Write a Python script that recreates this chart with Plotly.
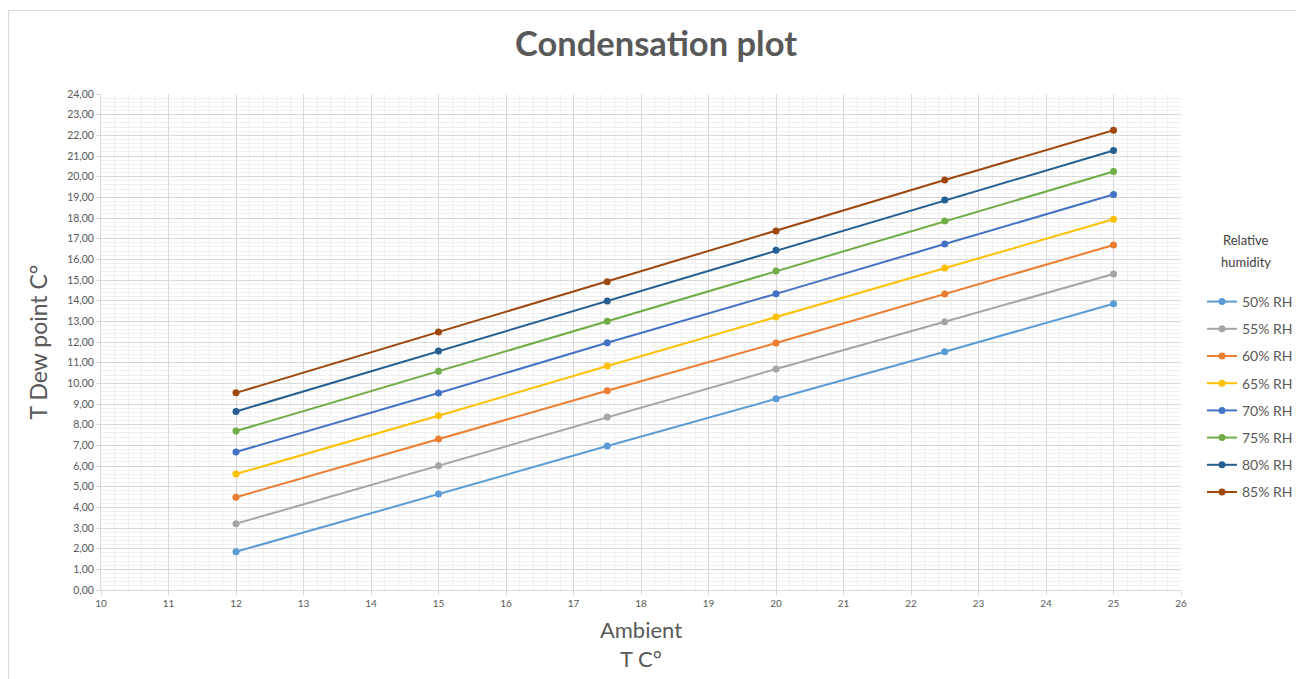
import plotly.graph_objects as go

ambient = [12, 15, 17.5, 20, 22.5, 25]
series_names = ["50% RH", "55% RH", "60% RH", "65% RH", "70% RH", "75% RH", "80% RH", "85% RH"]
rh50 = [1.85, 4.65, 6.97, 9.25, 11.53, 13.85]
rh55 = [3.21, 6.01, 8.37, 10.69, 12.98, 15.29]
rh60 = [4.49, 7.31, 9.64, 11.95, 14.32, 16.69]
rh65 = [5.61, 8.43, 10.84, 13.21, 15.58, 17.94]
rh70 = [6.68, 9.53, 11.96, 14.33, 16.74, 19.14]
rh75 = [7.69, 10.59, 13.01, 15.43, 17.85, 20.25]
rh80 = [8.64, 11.56, 13.98, 16.44, 18.87, 21.27]
rh85 = [9.54, 12.48, 14.91, 17.37, 19.84, 22.25]
series_values = [rh50, rh55, rh60, rh65, rh70, rh75, rh80, rh85]
colors = ["#5B9BD5", "#A5A5A5", "#ED7D31", "#FFC000", "#4472C4", "#70AD47", "#255E91", "#9E480E"]

text_color = "#595959"
font_family = "Lato, 'Open Sans', sans-serif"

# figure size compensates for the 8px default page margin
W, H = 1296, 671
ML, MR, MT, MB = 93, 123, 86, 89
PW, PH = W - ML - MR, H - MT - MB


def px_x(page_x):
    return (page_x - 8 - ML) / PW


def px_y(page_y):
    return (H - MB - (page_y - 8)) / PH


fig = go.Figure()
for name, vals, col in zip(series_names, series_values, colors):
    fig.add_trace(go.Scatter(
        x=ambient, y=vals, name=name, mode="lines+markers",
        line=dict(color=col, width=2),
        marker=dict(color=col, size=7),
        legendgroup=name,
    ))

fig.update_layout(
    width=W, height=H,
    paper_bgcolor="white", plot_bgcolor="white",
    separators=",.",
    margin=dict(l=ML, r=MR, t=MT, b=MB, autoexpand=False),
    font=dict(family=font_family, color=text_color),
    title=dict(text="<b>Condensation plot</b>", x=0.5, xref="container", xanchor="center",
               y=1 - 36 / H, yref="container", yanchor="middle",
               font=dict(size=34.5, color=text_color, family=font_family)),
    showlegend=True,
    legend=dict(
        xref="container", yref="container",
        x=(1202 - 8) / W, xanchor="left", y=1 - (286 - 8) / H, yanchor="top",
        font=dict(size=14, color=text_color),
        tracegroupgap=6, itemwidth=30,
        bgcolor="rgba(0,0,0,0)",
    ),
    annotations=[
        dict(text="Relative", x=px_x(1246), y=px_y(240), xref="paper", yref="paper",
             xanchor="center", yanchor="middle", showarrow=False,
             font=dict(size=13, color="#404040")),
        dict(text="humidity", x=px_x(1246), y=px_y(262), xref="paper", yref="paper",
             xanchor="center", yanchor="middle", showarrow=False,
             font=dict(size=13, color="#404040")),
    ],
    xaxis=dict(
        range=[10, 26], dtick=1, tick0=10,
        showgrid=True, gridcolor="#D9D9D9", gridwidth=1,
        minor=dict(dtick=0.2, showgrid=True, gridcolor="#F0F0F0", gridwidth=1),
        showline=True, linecolor="#D9D9D9", linewidth=1,
        ticks="outside", ticklen=4, tickcolor="#D9D9D9",
        tickfont=dict(size=10, color=text_color),
        zeroline=False,
        title=dict(text="Ambient<br>T C°", font=dict(size=22, color=text_color), standoff=14),
    ),
    yaxis=dict(
        range=[0, 24], dtick=1, tick0=0, tickformat=".2f",
        showgrid=True, gridcolor="#D9D9D9", gridwidth=1,
        minor=dict(dtick=0.2, showgrid=True, gridcolor="#F0F0F0", gridwidth=1),
        showline=True, linecolor="#D9D9D9", linewidth=1,
        ticks="outside", ticklen=4, tickcolor="#D9D9D9",
        tickfont=dict(size=10.5, color=text_color),
        zeroline=False,
        title=dict(text="T Dew point C°", font=dict(size=23, color=text_color), standoff=13),
    ),
    shapes=[dict(type="rect", xref="paper", yref="paper",
                 x0=px_x(8.5), x1=px_x(1300),
                 y0=px_y(700), y1=px_y(10.5),
                 line=dict(color="#D9D9D9", width=1), fillcolor="rgba(0,0,0,0)", layer="below")],
)

fig.write_html("out.html")
